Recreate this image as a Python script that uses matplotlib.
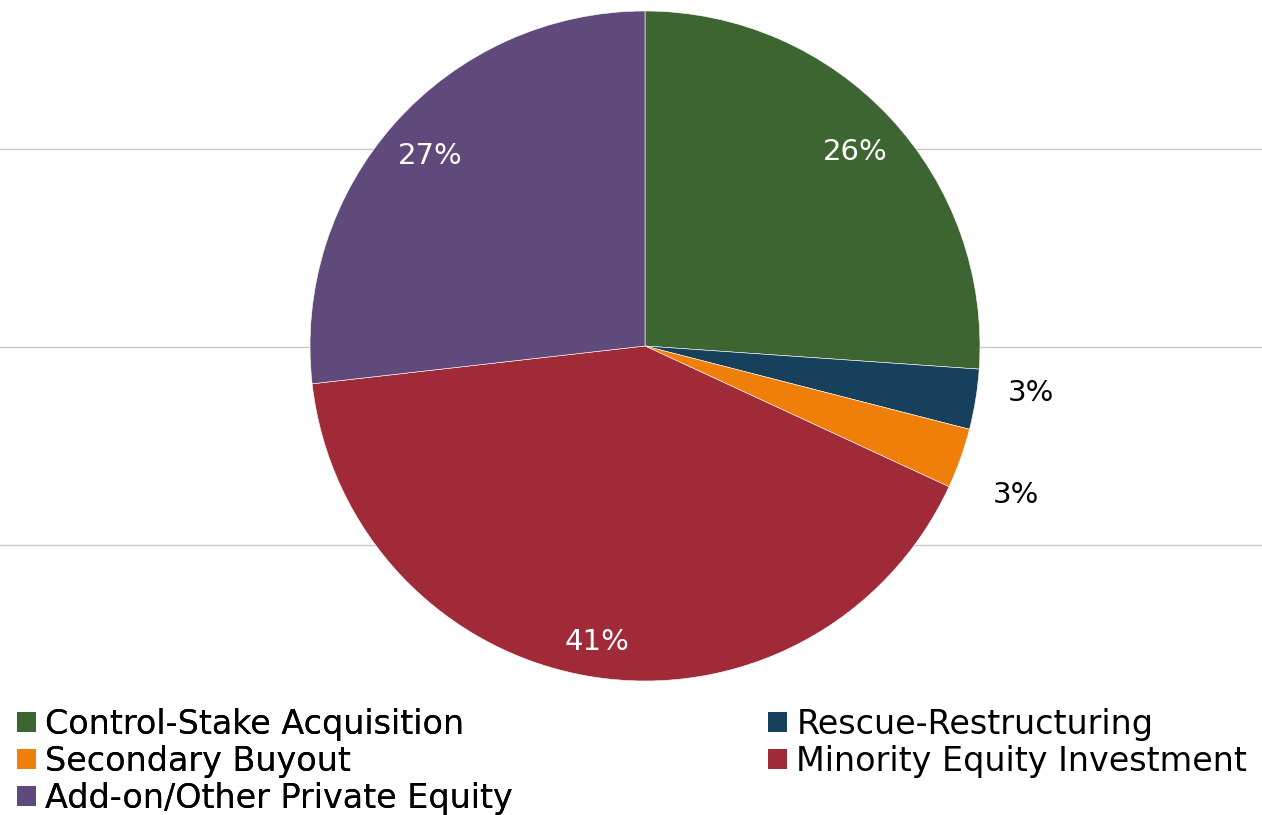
import numpy as np
import matplotlib
matplotlib.use("Agg")
import matplotlib.pyplot as plt
from matplotlib.patches import Patch

categories = ["Control-Stake Acquisition", "Rescue-Restructuring", "Secondary Buyout",
              "Minority Equity Investment", "Add-on/Other Private Equity"]
shares = [26.1, 2.9, 2.9, 41.3, 26.8]
colors = ["#3D6531", "#16405B", "#F07F09", "#A02A37", "#604A7B"]
label_text = ["26%", "3%", "3%", "41%", "27%"]

W, H = 1262, 815
fig = plt.figure(figsize=(W / 100, H / 100), dpi=100)

# background axes carrying the horizontal gridlines
bg = fig.add_axes([0, 0, 1, 1])
bg.set_xlim(0, W)
bg.set_ylim(H, 0)
bg.axis("off")
for y in [149, 347, 545]:
    bg.axhline(y, color="#C8C8C8", lw=1.0, zorder=0)

cx, cy, r = 645, 346, 335
ax = fig.add_axes([(cx - r) / W, (H - cy - r) / H, 2 * r / W, 2 * r / H])
wedges, _ = ax.pie(shares, colors=colors, startangle=90, counterclock=False,
                   radius=1.0, wedgeprops=dict(linewidth=0.4, edgecolor="white"))
ax.set_xlim(-1, 1)
ax.set_ylim(-1, 1)
ax.set_aspect("equal")
ax.axis("off")

# label placement: radius (fraction of pie radius), text colour, angle nudge
label_r = [0.86, 1.16, 1.19, 0.89, 0.86]
label_c = ["white", "black", "black", "white", "white"]
label_da = [0, 2.5, -2, 0, 0]
for w, t, lr, lc, da in zip(wedges, label_text, label_r, label_c, label_da):
    mid = np.deg2rad((w.theta1 + w.theta2) / 2 + da)
    ax.annotate(t, (lr * np.cos(mid), lr * np.sin(mid)), xytext=(0, -1.5),
                textcoords="offset points", ha="center", va="center",
                annotation_clip=False, fontsize=21, color=lc,
                family="DejaVu Sans")

handles = [Patch(facecolor=c, edgecolor="none") for c in colors]
leg_kw = dict(frameon=False, fontsize=24, handlelength=0.57, handleheight=0.57,
              handletextpad=0.28, labelspacing=0.12, borderpad=0, borderaxespad=0,
              loc="upper left")
leg1 = fig.legend([handles[0], handles[2], handles[4]],
                  [categories[0], categories[2], categories[4]],
                  bbox_to_anchor=(17 / W, 1 - 708 / H), **leg_kw)
fig.add_artist(leg1)
leg2 = fig.legend([handles[1], handles[3]], [categories[1], categories[3]],
                  bbox_to_anchor=(768 / W, 1 - 708 / H), **leg_kw)

fig.savefig("out.png", dpi=100)
